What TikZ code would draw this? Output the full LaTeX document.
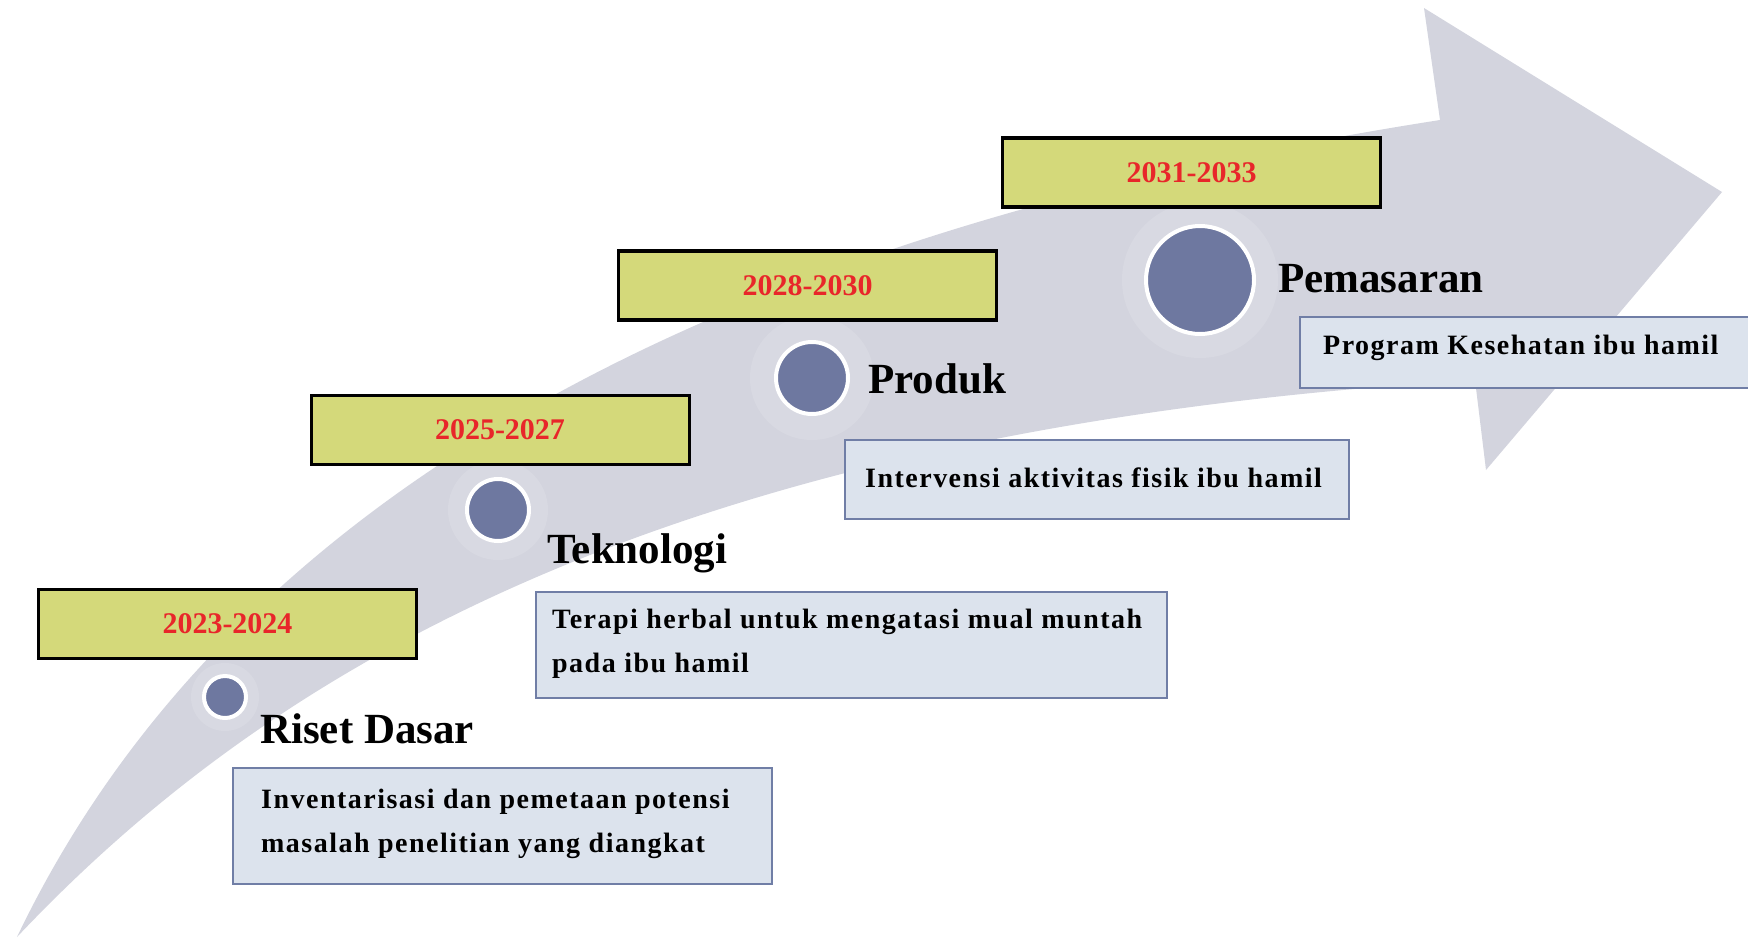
\documentclass[tikz,border=0pt]{standalone}
\usepackage{fontspec}
\setmainfont{Liberation Serif}
\newfontfamily\descfont[LetterSpace=5.3]{Liberation Serif}
\definecolor{arrowgray}{RGB}{211,212,222}
\definecolor{yearfill}{RGB}{212,217,122}
\definecolor{yearred}{RGB}{232,38,42}
\definecolor{descfill}{RGB}{220,227,237}
\definecolor{descline}{RGB}{112,126,166}
\definecolor{dotblue}{RGB}{110,120,160}
\begin{document}
\begin{tikzpicture}[x=1pt,y=-1pt,
  yearbox/.style={draw=black, line width=3.5pt, fill=yearfill, inner sep=0pt,
    minimum width=378pt, minimum height=69pt, text=yearred,
    font=\fontsize{30}{36}\selectfont\bfseries},
  descbox/.style={draw=descline, line width=2pt, fill=descfill, inner sep=0pt, anchor=north west},
  desctext/.style={anchor=base west, inner sep=0pt, font=\descfont\fontsize{28}{34}\selectfont\bfseries},
  stagelabel/.style={anchor=base west, inner sep=0pt, font=\fontsize{43}{50}\selectfont\bfseries},
  dot/.style={circle, draw=white, line width=4pt, fill=dotblue, inner sep=0pt},
  halo/.style={fill=white, opacity=0.12}]
\useasboundingbox (0,0) rectangle (1748,938);
\clip (0,0) rectangle (1748,938);
% arrow
\fill[arrowgray] (17,937) .. controls (250,450) and (800,220) .. (1440,120)
  -- (1424,8) -- (1722,192) -- (1486,470) -- (1475,380)
  .. controls (650,430) and (260,680) .. (17,937) -- cycle;
% halos
\fill[halo] (225,697) circle (34);
\fill[halo] (498,510) circle (50);
\fill[halo] (812,378) circle (62);
\fill[halo] (1200,280) circle (78);
% year boxes
\node[yearbox] (y1) at (227.5,624) {2023-2024};
\node[yearbox, line width=3pt] (y2) at (500,429.5) {2025-2027};
\node[yearbox] (y3) at (807.5,285.5) {2028-2030};
\node[yearbox] (y4) at (1191.5,172.5) {2031-2033};
% dots
\node[dot, minimum size=42pt] (c1) at (225,697) {};
\node[dot, minimum size=62pt] (c2) at (498,510) {};
\node[dot, minimum size=72pt] (c3) at (812,378) {};
\node[dot, minimum size=108pt] (c4) at (1200,280) {};
% stage labels
\node[stagelabel] (l1) at (260,743) {Riset Dasar};
\node[stagelabel] (l2) at (547,563) {Teknologi};
\node[stagelabel] (l3) at (868,393) {Produk};
\node[stagelabel] (l4) at (1278,292) {Pemasaran};
% description boxes
\node[descbox, minimum width=539pt, minimum height=116pt] (d1) at (232,767) {};
\node[descbox, minimum width=631pt, minimum height=106pt] (d2) at (535,591) {};
\node[descbox, minimum width=504pt, minimum height=79pt] (d3) at (844,439) {};
\node[descbox, minimum width=480pt, minimum height=71pt] (d4) at (1299,316) {};
% description texts
\node[desctext] (t1a) at (261,808) {Inventarisasi dan pemetaan potensi};
\node[desctext] (t1b) at (261,852) {masalah penelitian yang diangkat};
\node[desctext] (t2a) at (552,628) {Terapi herbal untuk mengatasi mual muntah};
\node[desctext] (t2b) at (552,672) {pada ibu hamil};
\node[desctext] (t3) at (865,487) {Intervensi aktivitas fisik ibu hamil};
\node[desctext] (t4) at (1323,354) {Program Kesehatan ibu hamil};
\end{tikzpicture}
\end{document}
